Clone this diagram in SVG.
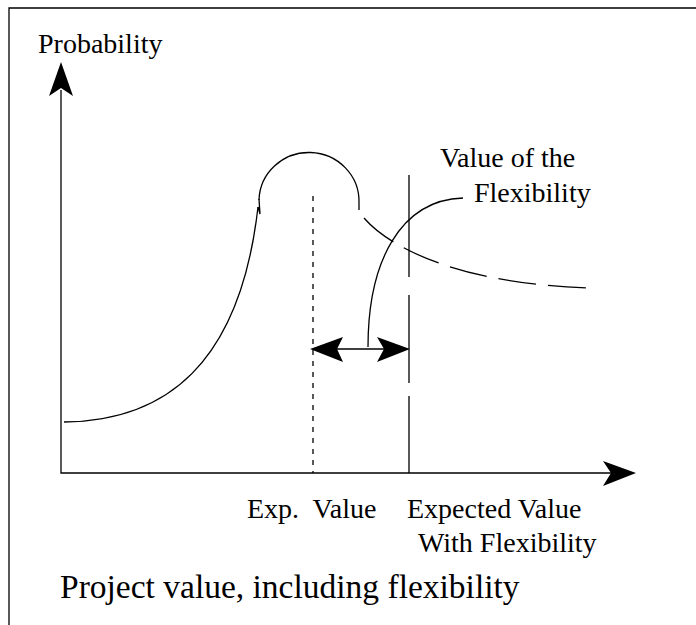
<svg xmlns="http://www.w3.org/2000/svg" width="696" height="625" viewBox="0 0 696 625">
  <style>
    .lbl { font-family: "Liberation Serif", "Times New Roman", serif; font-size: 28px; fill: #000; white-space: pre; }
    .cap { font-family: "Liberation Serif", "Times New Roman", serif; font-size: 33.5px; fill: #000; }
    .ln { fill: none; stroke: #000; stroke-width: 1.3; }
    .head { fill: #000; stroke: none; }
  </style>
  <rect width="696" height="625" fill="#fff"/>

  <!-- page frame (top and left edges only) -->
  <g id="frame">
    <path class="ln" d="M9,625 V8 H696" stroke-width="1.6"/>
  </g>

  <!-- axes -->
  <g id="axes">
    <path class="ln" d="M61,90 V473 H612"/>
    <path class="head" d="M61,62 L73,96 L61,88 L49,96 Z"/>
    <path class="head" d="M636,473 L603,461 L611,473 L603,486 Z"/>
    <text class="lbl" x="38" y="53">Probability</text>
  </g>

  <!-- probability curve: rising flank, rounded peak, dashed tail -->
  <g id="curve">
    <path class="ln" d="M64,422 C165,421 240,365 258,207"/>
    <path class="ln" d="M258,207 L260,214 L259,199"/>
    <path class="ln" d="M259,200 A50,49 0 0 1 359,203 L359,210"/>
    <path class="ln" d="M364,218 C390,248 460,284 590,288" stroke-dasharray="38 12"/>
  </g>

  <!-- expected value marker -->
  <g id="exp-value">
    <line class="ln" x1="313" y1="196" x2="313" y2="473" stroke-dasharray="5 6"/>
    <text class="lbl" x="247" y="518">Exp.  Value</text>
  </g>

  <!-- expected value with flexibility marker -->
  <g id="exp-value-flex">
    <path class="ln" d="M409,175 V277 M409,295 V383 M409,396 V473"/>
    <text class="lbl" x="407" y="518">Expected Value</text>
    <text class="lbl" x="418" y="552">With Flexibility</text>
  </g>

  <!-- connectors: double-headed span and its leader to the label -->
  <g id="connectors">
    <line class="ln" x1="335" y1="349" x2="388" y2="349"/>
    <path class="head" d="M310,349 L343,337 L337,349 L343,362 Z"/>
    <path class="head" d="M410,349 L377,337 L384,349 L377,362 Z"/>
    <path class="ln" d="M368,347 C368,262 400,200 463,198"/>
  </g>

  <g id="flex-label">
    <text class="lbl" x="440" y="167">Value of the</text>
    <text class="lbl" x="474" y="202">Flexibility</text>
  </g>

  <g id="caption">
    <text class="cap" x="60" y="598">Project value, including flexibility</text>
  </g>
</svg>
